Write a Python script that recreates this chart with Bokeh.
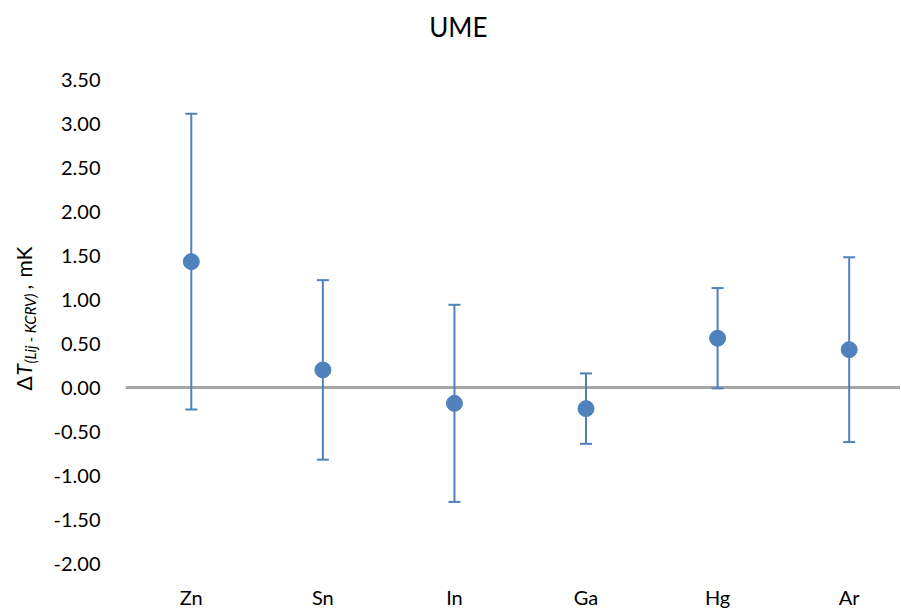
import math
from bokeh.plotting import figure
from bokeh.layouts import row, column
from bokeh.models import Range1d, FixedTicker, NumeralTickFormatter, Span, ColumnDataSource
from bokeh.core.properties import value
from bokeh.embed import file_html
from bokeh.resources import INLINE

# ---- data ----
elements = ["Zn", "Sn", "In", "Ga", "Hg", "Ar"]
delta_t = [1.43, 0.20, -0.18, -0.24, 0.56, 0.43]
uncert = [1.68, 1.02, 1.12, 0.40, 0.57, 1.05]
y_ticks = [-2.0, -1.5, -1.0, -0.5, 0.0, 0.5, 1.0, 1.5, 2.0, 2.5, 3.0, 3.5]
title_text = "UME"

# y-axis label pieces: text, start (px from top), anchor x (px), size, style
ylab_text = ["Δ", "T", "(Lij - KCRV)", ",", "mK"]
ylab_py = [390, 375, 363, 289, 277]
ylab_px = [23, 23, 29, 23, 23]
ylab_size = ["21px", "21px", "15px", "21px", "21px"]
ylab_style = ["normal", "italic", "italic", "normal", "normal"]

FONT = "Lato"
BLUE = "#4F81BD"

xs = list(range(len(elements)))
src = ColumnDataSource(dict(
    x=xs, y=delta_t,
    upper=[v + u for v, u in zip(delta_t, uncert)],
    lower=[v - u for v, u in zip(delta_t, uncert)],
))

LW = 50          # width of the y-label strip
TOTAL_H = 613
TOP_H = 67       # height of the title strip
FW, FH = 775, 484
X0, X1 = -0.5, 5.39
Y0, Y1 = y_ticks[0], y_ticks[-1]
MAIN_W = 125 - LW + FW

def strip(w, h):
    f = figure(width=w, height=h, output_backend="svg", toolbar_location=None, title=None,
               x_range=Range1d(0, w), y_range=Range1d(0, h),
               x_axis_location=None, y_axis_location=None, min_border=0)
    f.outline_line_color = None
    f.xgrid.visible = False
    f.ygrid.visible = False
    return f

# ---- y-label strip ----
q = strip(LW, TOTAL_H)
lsrc = ColumnDataSource(dict(
    x=ylab_px, y=[TOTAL_H - v for v in ylab_py], text=ylab_text,
    size=ylab_size, style=ylab_style,
))
q.text(x="x", y="y", text="text", source=lsrc, angle=math.pi / 2, text_align="left",
       text_baseline="alphabetic", text_font=value(FONT), text_font_size="size",
       text_font_style="style", text_color="#000000")

# ---- title strip ----
t = strip(MAIN_W, TOP_H)
t.text(x=[365], y=[TOP_H - 26], text=[title_text], text_align="center",
       text_baseline="alphabetic", text_font=value(FONT), text_font_size="26px",
       text_color="#000000")

# ---- main chart ----
p = figure(frame_width=FW, frame_height=FH, output_backend="svg", toolbar_location=None,
           x_range=Range1d(X0, X1), y_range=Range1d(Y0, Y1),
           min_border_left=125 - LW, min_border_right=0,
           min_border_top=79 - TOP_H, min_border_bottom=TOTAL_H - 79 - FH)
p.outline_line_color = None
p.xgrid.visible = False
p.ygrid.visible = False

p.yaxis.ticker = FixedTicker(ticks=y_ticks)
p.yaxis.formatter = NumeralTickFormatter(format="0.00")
p.yaxis.axis_line_color = None
p.yaxis.major_tick_line_color = None
p.yaxis.minor_tick_line_color = None
p.yaxis.major_tick_out = 0
p.yaxis.major_label_standoff = 25
p.yaxis.major_label_text_font = FONT
p.yaxis.major_label_text_font_size = "20px"
p.yaxis.major_label_text_color = "#000000"

p.xaxis.ticker = FixedTicker(ticks=xs)
p.xaxis.major_label_overrides = {i: n for i, n in zip(xs, elements)}
p.xaxis.axis_line_color = None
p.xaxis.major_tick_line_color = None
p.xaxis.minor_tick_line_color = None
p.xaxis.major_tick_out = 0
p.xaxis.major_label_standoff = 21
p.xaxis.major_label_text_font = FONT
p.xaxis.major_label_text_font_size = "20px"
p.xaxis.major_label_text_color = "#000000"

p.add_layout(Span(location=0, dimension="width", line_color="#A5A5A5", line_width=3, level="underlay"))

p.segment(x0="x", y0="lower", x1="x", y1="upper", source=src, line_color=BLUE, line_width=2)
p.scatter(x="x", y="upper", source=src, marker="dash", size=12, line_color=BLUE, line_width=2)
p.scatter(x="x", y="lower", source=src, marker="dash", size=12, line_color=BLUE, line_width=2)
p.scatter(x="x", y="y", source=src, marker="circle", size=16, fill_color=BLUE, line_color=BLUE)

layout = row(q, column(t, p, spacing=0), spacing=0)
open("out.html", "w").write(file_html(layout, INLINE))
